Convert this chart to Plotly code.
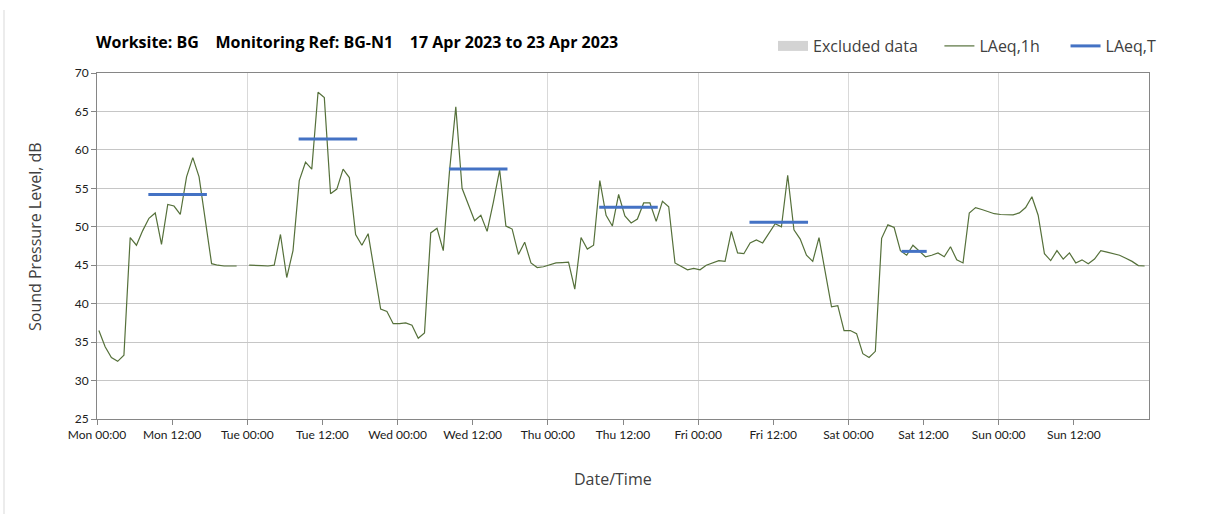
import plotly.graph_objects as go

# ---------------- data ----------------
day_names = ["Mon", "Tue", "Wed", "Thu", "Fri", "Sat", "Sun"]

# hourly LAeq,1h values, 24 per day (None = no data)
mon = [36.5, 34.4, 33.0, 32.5, 33.3, 48.6, 47.6, 49.5, 51.1, 51.8, 47.7, 52.9,
       52.7, 51.6, 56.5, 59.0, 56.5, 50.9, 45.2, 45.0, 44.9, 44.9, 44.9, None]
tue = [45.0, 45.0, 44.95, 44.9, 45.0, 49.0, 43.4, 46.9, 56.0, 58.4, 57.5, 67.5,
       66.8, 54.3, 54.9, 57.5, 56.4, 49.0, 47.6, 49.1, 44.3, 39.3, 39.0, 37.4]
wed = [37.4, 37.5, 37.2, 35.5, 36.2, 49.2, 49.8, 46.9, 57.3, 65.6, 55.0, 53.0,
       50.8, 51.5, 49.4, 53.2, 57.4, 50.1, 49.7, 46.4, 48.0, 45.3, 44.7, 44.8]
thu = [45.1, 45.3, 45.35, 45.4, 41.9, 48.6, 47.1, 47.6, 56.0, 51.5, 50.1, 54.2,
       51.4, 50.5, 51.0, 53.1, 53.1, 50.7, 53.3, 52.6, 45.3, 44.8, 44.4, 44.6]
fri = [44.4, 45.0, 45.3, 45.6, 45.5, 49.4, 46.6, 46.5, 47.9, 48.3, 47.9, 49.1,
       50.4, 50.0, 56.7, 49.6, 48.4, 46.3, 45.5, 48.6, 44.0, 39.6, 39.75, 36.5]
sat = [36.5, 36.1, 33.5, 33.0, 33.8, 48.5, 50.25, 49.9, 46.9, 46.3, 47.6, 46.9,
       46.1, 46.3, 46.6, 46.1, 47.4, 45.7, 45.3, 51.8, 52.5, 52.25, 52.0, 51.7]
sun = [51.6, 51.6, 51.55, 51.8, 52.5, 53.9, 51.5, 46.5, 45.6, 46.9, 45.8, 46.6,
       45.3, 45.7, 45.2, 45.8, 46.9, 46.7, 46.5, 46.3, 45.9, 45.5, 44.95, 44.9]

# LAeq,T period levels (Mon..Sat) with their start / end hour of day
laeq_t_values = [54.2, 61.4, 57.5, 52.55, 50.6, 46.8]
laeq_t_start = [8.2, 8.2, 8.2, 8.2, 8.2, 8.5]
laeq_t_end = [17.55, 17.55, 17.55, 17.55, 17.55, 12.5]

tick_times = ["00:00", "12:00"]

# ---------------- build traces ----------------
days = [mon, tue, wed, thu, fri, sat, sun]
POINT_OFFSET = 0.3  # hourly points sit slightly after the hour mark
x_1h, y_1h = [], []
for d, vals in enumerate(days):
    for h, v in enumerate(vals):
        x_1h.append(d * 24 + h + POINT_OFFSET)
        y_1h.append(v)

x_t, y_t = [], []
for d, (v, s, e) in enumerate(zip(laeq_t_values, laeq_t_start, laeq_t_end)):
    x_t += [d * 24 + s, d * 24 + e, None]
    y_t += [v, v, None]

tickvals = [i * 12 for i in range(14)]
ticktext = [f"{day_names[i // 2]} {tick_times[i % 2]}" for i in range(14)]

FONT = "Lato, 'Open Sans', sans-serif"
FONT2 = "'Open Sans', Lato, sans-serif"
NB = "\u00a0"

fig = go.Figure()
fig.add_trace(go.Scatter(
    x=[None], y=[None], name="Excluded data" + NB * 4, mode="lines",
    line=dict(width=10, color="#D3D3D3"),
))
fig.add_trace(go.Scatter(
    x=x_1h, y=y_1h, name="LAeq,1h" + NB * 5, mode="lines",
    line=dict(color="#55703A", width=1.2), connectgaps=False,
))
fig.add_trace(go.Scatter(
    x=x_t, y=y_t, name="LAeq,T", mode="lines",
    line=dict(color="#4472C4", width=3),
))

W, H = 1208, 514
L, R, T, B = 97, 59, 73, 95
PW, PH = W - L - R, H - T - B

fig.update_layout(
    width=W, height=H,
    margin=dict(l=L, r=R, t=T, b=B),
    paper_bgcolor="white", plot_bgcolor="white",
    font=dict(family=FONT, color="#404040"),
    title=dict(
        text="<b>Worksite: BG" + NB * 4 + "Monitoring Ref: BG-N1" + NB * 4 + "17 Apr 2023 to 23 Apr 2023</b>",
        x=96 / W, xref="container", xanchor="left",
        y=1 - 42 / H, yref="container", yanchor="middle",
        font=dict(size=16, color="#000000", family=FONT2),
    ),
    showlegend=True,
    legend=dict(
        orientation="h", x=(773 - L) / PW, xanchor="left",
        y=1 + (T - 46) / PH, yanchor="middle",
        font=dict(size=16, color="#404040", family=FONT2), bgcolor="rgba(0,0,0,0)",
        itemwidth=30,
    ),
    xaxis=dict(
        range=[0, 168], tickmode="array", tickvals=tickvals, ticktext=ticktext,
        showgrid=False, zeroline=False,
        showline=True, linecolor="#868686", linewidth=1, mirror=True,
        ticks="outside", ticklen=5, tickcolor="#868686",
        tickfont=dict(size=12, color="#202020"),
        minor=dict(tickmode="array", tickvals=[24, 48, 72, 96, 120, 144],
                   showgrid=True, gridcolor="#D9D9D9", gridwidth=1, ticks=""),
    ),
    yaxis=dict(
        range=[25, 70], dtick=5, tick0=25,
        showgrid=True, gridcolor="#C6C6C6", gridwidth=1, zeroline=False,
        showline=True, linecolor="#868686", linewidth=1, mirror=True,
        ticks="outside", ticklen=5, tickcolor="#868686",
        tickfont=dict(size=12, color="#202020"),
    ),
    annotations=[
        dict(text="Date/Time", xref="paper", yref="paper",
             x=(613 - L) / PW, y=-(479 - (T + PH)) / PH,
             xanchor="center", yanchor="middle", showarrow=False,
             font=dict(size=16, color="#404040", family=FONT2)),
        dict(text="Sound Pressure Level, dB", xref="paper", yref="paper",
             x=(35 - L) / PW, y=((T + PH) - 237) / PH, textangle=-90,
             xanchor="center", yanchor="middle", showarrow=False,
             font=dict(size=16, color="#404040", family=FONT2)),
    ],
    shapes=[
        dict(type="line", xref="paper", yref="paper",
             x0=(4 - L) / PW, x1=(4 - L) / PW,
             y0=-B / PH, y1=1 + (T - 10) / PH,
             line=dict(color="#D9D9D9", width=1)),
    ],
)

fig.write_html(
    "out.html",
    config={"displayModeBar": False},
    post_script="document.body.style.margin='0';document.body.style.overflow='hidden';",
)
